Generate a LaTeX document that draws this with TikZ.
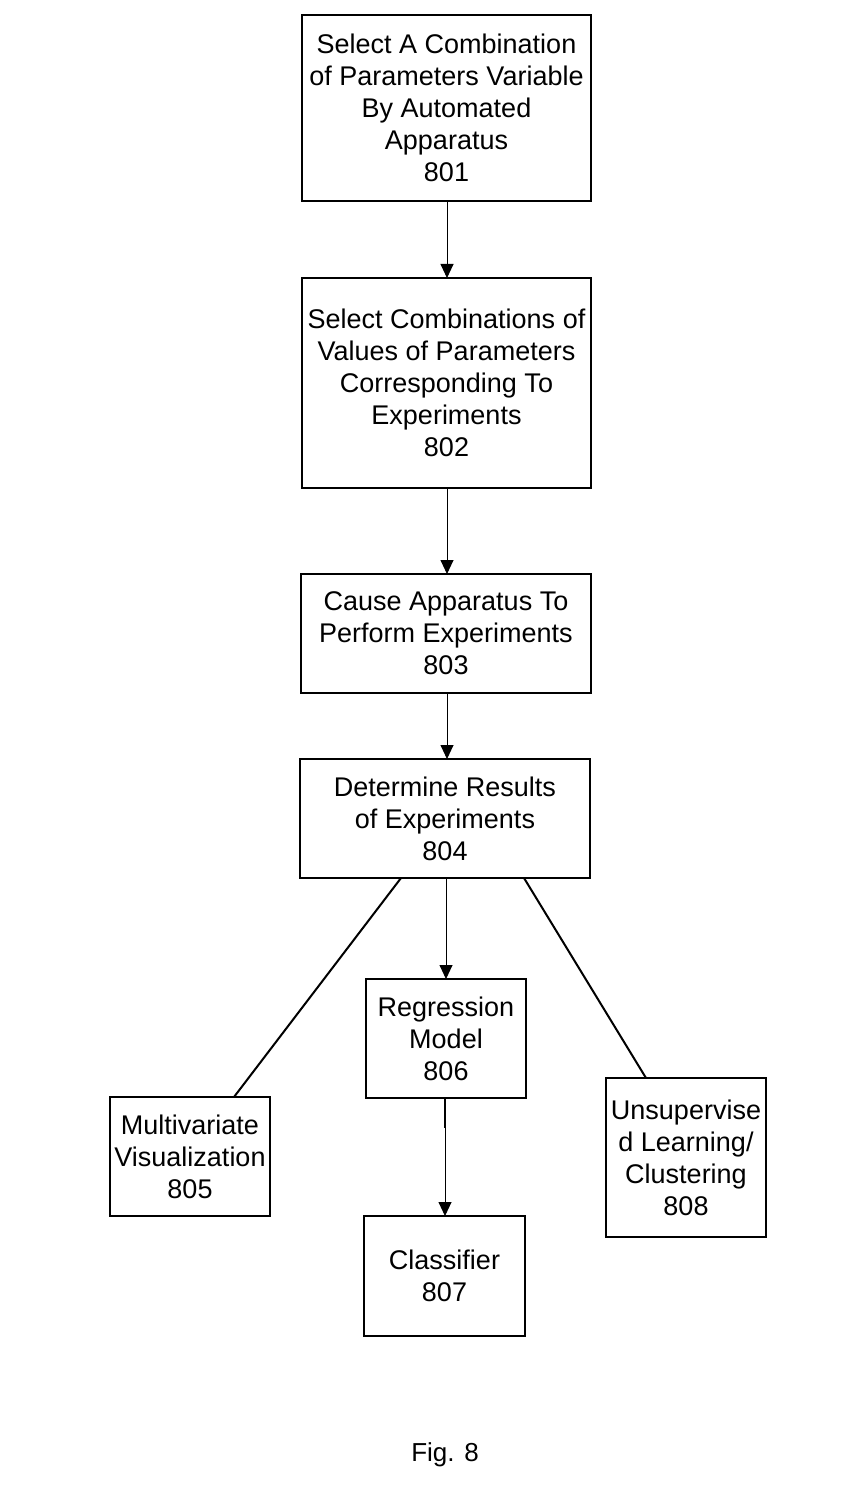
\documentclass[tikz,border=0pt]{standalone}
\usepackage{fontspec}
\setmainfont{Liberation Sans}
\usetikzlibrary{arrows.meta,calc}
\begin{document}
\begin{tikzpicture}[x=1pt,y=-1pt,
  box/.style={draw,line width=1.1pt,inner sep=0pt,outer sep=0pt,align=center,
    font=\fontsize{27}{32}\selectfont},
  arr/.style={line width=0.9pt,-{Triangle[width=13pt,length=14pt]}},
  diag/.style={line width=2pt}]
\useasboundingbox (0,0) rectangle (856,1503);
\node[box,minimum width=289pt,minimum height=186pt] (n801) at (446.5,108)
  {Select A Combination\\of Parameters Variable\\By Automated\\Apparatus\\801};
\node[box,minimum width=289pt,minimum height=210pt] (n802) at (446.5,383)
  {Select Combinations of\\Values of Parameters\\Corresponding To\\Experiments\\802};
\node[box,minimum width=290pt,minimum height=119pt] (n803) at (446,633.5)
  {Cause Apparatus To\\Perform Experiments\\803};
\node[box,minimum width=290pt,minimum height=119pt] (n804) at (445,818.5)
  {Determine Results\\of Experiments\\804};
\node[box,minimum width=160pt,minimum height=119pt] (n806) at (446,1038.5)
  {Regression\\Model\\806};
\node[box,minimum width=160pt,minimum height=119pt] (n805) at (190,1156.5)
  {Multivariate\\Visualization\\805};
\node[box,minimum width=161pt,minimum height=120pt] (n807) at (444.5,1276)
  {Classifier\\807};
\node[box,minimum width=160pt,minimum height=159pt] (n808) at (686,1157.5)
  {Unsupervise\\d Learning/\\Clustering\\808};
\node[font=\fontsize{26}{30}\selectfont] (fig) at (445,1455) {Fig. 8};
\draw[arr] (n801.south -| 447,0) -- (n802.north -| 447,0);
\draw[arr] (n802.south -| 447,0) -- (n803.north -| 447,0);
\draw[arr] (n803.south -| 447,0) -- (n804.north -| 447,0);
\draw[arr] (n804.south -| 446,0) -- (n806.north -| 446,0);
\draw[arr] (n806.south -| 445,0) -- (n807.north -| 445,0);
\draw[line width=2.6pt] (n806.south -| 445,0) -- ++(0,30);
\draw[diag] ($(n804.south west)+(101,0)$) -- ($(n805.north west)+(124,0)$);
\draw[diag] ($(n804.south west)+(224,0)$) -- ($(n808.north west)+(40,0)$);
\end{tikzpicture}
\end{document}
